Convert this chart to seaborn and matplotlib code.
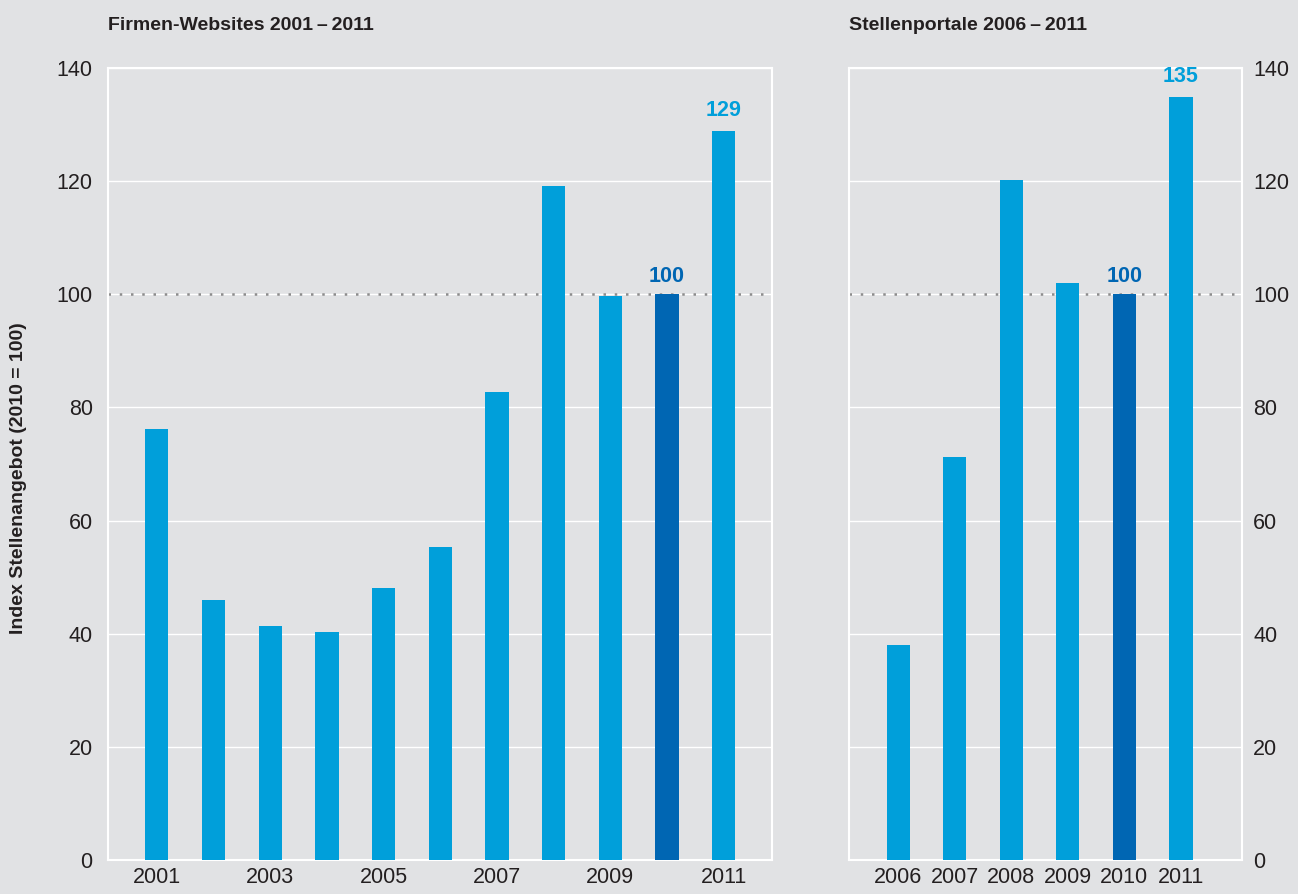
import matplotlib
matplotlib.use("Agg")
import matplotlib.pyplot as plt
import seaborn as sns
import pandas as pd

# Data
web_years = ["2001", "2002", "2003", "2004", "2005", "2006", "2007", "2008", "2009", "2010", "2011"]
web_values = [76.2, 46.0, 41.4, 40.3, 48.1, 55.3, 82.7, 119.1, 99.7, 100, 128.9]
portal_years = ["2006", "2007", "2008", "2009", "2010", "2011"]
portal_values = [38.0, 71.2, 120.2, 102.0, 100, 134.9]
yticks = [0, 20, 40, 60, 80, 100, 120, 140]

light_blue = "#009fda"
dark_blue = "#0066b3"
bg = "#e1e2e4"
text_col = "#231f20"

sns.set_theme(style="whitegrid")
plt.rcParams["font.family"] = ["Liberation Sans", "DejaVu Sans"]

fig = plt.figure(figsize=(12.98, 8.94), dpi=100, facecolor=bg)
ax1 = fig.add_axes([108 / 1298, 34 / 894, 664 / 1298, 792 / 894])
ax2 = fig.add_axes([849 / 1298, 34 / 894, 393 / 1298, 792 / 894])


def draw_panel(ax, years, values, title):
    df = pd.DataFrame({"year": years, "value": values})
    colors = [dark_blue if y == "2010" else light_blue for y in years]
    sns.barplot(data=df, x="year", y="value", hue="year", palette=colors,
                legend=False, width=0.41, saturation=1, linewidth=0, ax=ax, zorder=3)
    ax.set_facecolor(bg)
    ax.set_ylim(0, 140)
    ax.set_yticks(yticks)
    ax.grid(axis="y", color="white", linewidth=1.0, zorder=0)
    ax.grid(axis="x", visible=False)
    for s in ax.spines.values():
        s.set_color("white")
        s.set_linewidth(1.5)
    ax.axhline(100, color="#8c8c8c", linestyle=(0, (1, 3.5)), linewidth=1.8, zorder=2)
    ax.set_xlabel("")
    ax.set_ylabel("")
    ax.tick_params(axis="both", length=0, labelsize=15.5, colors=text_col)
    ax.tick_params(axis="x", pad=5)
    ax.text(0, 1.048, title, transform=ax.transAxes, fontsize=14, fontweight="bold",
            color=text_col, ha="left", va="baseline")
    # label the 2010 reference and last year
    for i, (y, v) in enumerate(zip(years, values)):
        if y == "2010":
            ax.text(i, v + 2.2, "100", ha="center", va="baseline", fontsize=15.5,
                    fontweight="bold", color=dark_blue)
        elif y == "2011":
            ax.text(i, v + 2.6, f"{round(v)}", ha="center", va="baseline", fontsize=15.5,
                    fontweight="bold", color=light_blue)


draw_panel(ax1, web_years, web_values, "Firmen-Websites 2001\u2009\u2013\u20092011")
ax1.set_xlim(-0.86, 10.85)
ax1.set_xticks(range(0, 11, 2))
ax1.set_xticklabels(web_years[::2])
ax1.tick_params(axis="y", pad=11)
ax1.set_ylabel("Index Stellenangebot (2010 = 100)", fontsize=14, fontweight="bold",
               color=text_col)
ax1.yaxis.set_label_coords(-0.122, 0.482)

draw_panel(ax2, portal_years, portal_values, "Stellenportale 2006\u2009\u2013\u20092011")
ax2.set_xlim(-0.87, 6.08)
ax2.yaxis.tick_right()
ax2.tick_params(axis="y", pad=8)

fig.savefig("out.png", dpi=100, facecolor=bg)
